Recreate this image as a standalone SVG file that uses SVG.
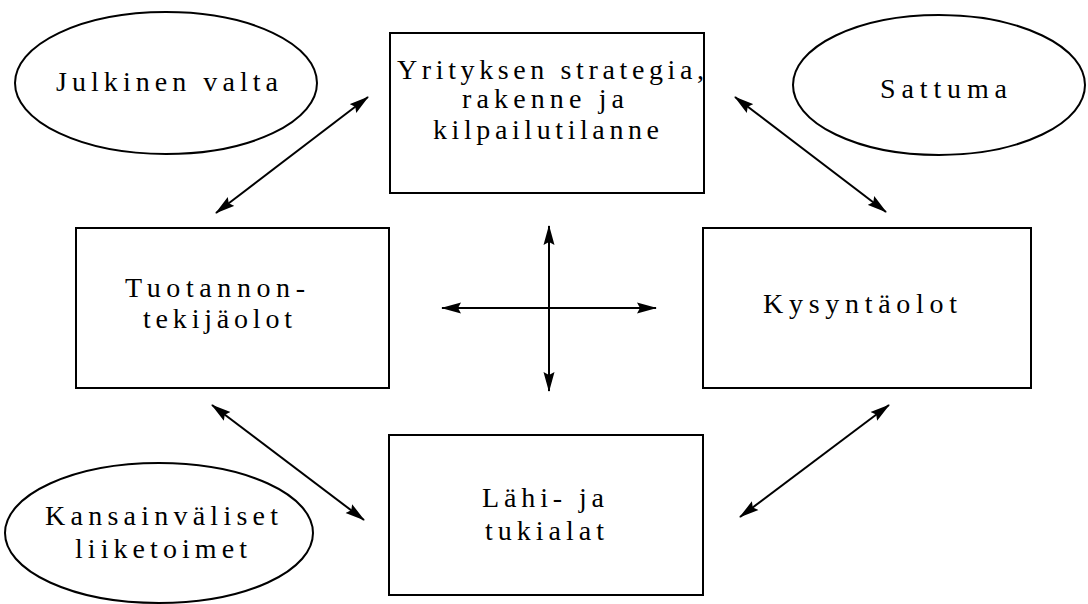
<svg xmlns="http://www.w3.org/2000/svg" width="1088" height="604" viewBox="0 0 1088 604">
<style>
.box{fill:#fff;stroke:#000;stroke-width:2}
.ell{fill:#fff;stroke:#000;stroke-width:2}
.t{font-family:"Liberation Serif","Times New Roman",serif;font-size:28px;fill:#000}
.c{stroke:#000;stroke-width:2;fill:none;marker-start:url(#ah);marker-end:url(#ah)}
</style>
<defs>
<marker id="ah" viewBox="0 0 20 12" refX="19" refY="6" markerWidth="20" markerHeight="12" markerUnits="userSpaceOnUse" orient="auto-start-reverse">
<path d="M0,0.5 L20,6 L0,11.5 L3,6 Z" fill="#000"/>
</marker>
</defs>
<rect width="1088" height="604" fill="#fff"/>
<g id="julkinen-valta">
<ellipse class="ell" cx="166" cy="83" rx="151" ry="71"/>
<text class="t" x="56" y="91" textLength="222" lengthAdjust="spacing">Julkinen valta</text>
</g>
<g id="sattuma">
<ellipse class="ell" cx="939" cy="85" rx="146" ry="70"/>
<text class="t" x="880" y="98" textLength="127" lengthAdjust="spacing">Sattuma</text>
</g>
<g id="kansainvaliset">
<ellipse class="ell" cx="159" cy="533" rx="154" ry="70"/>
<text class="t" x="45" y="525" textLength="233" lengthAdjust="spacing">Kansainväliset</text>
<text class="t" x="75" y="558" textLength="172" lengthAdjust="spacing">liiketoimet</text>
</g>
<g id="yrityksen-strategia">
<rect class="box" x="390" y="33" width="314" height="160"/>
<text class="t" x="397" y="79" textLength="307" lengthAdjust="spacing">Yrityksen strategia,</text>
<text class="t" x="462" y="108" textLength="162" lengthAdjust="spacing">rakenne ja</text>
<text class="t" x="433" y="139" textLength="226" lengthAdjust="spacing">kilpailutilanne</text>
</g>
<g id="tuotannontekijaolot">
<rect class="box" x="76" y="228" width="313" height="160"/>
<text class="t" x="125" y="297" textLength="180" lengthAdjust="spacing">Tuotannon-</text>
<text class="t" x="143" y="328" textLength="149" lengthAdjust="spacing">tekijäolot</text>
</g>
<g id="kysyntaolot">
<rect class="box" x="703" y="228" width="328" height="160"/>
<text class="t" x="763" y="313" textLength="194" lengthAdjust="spacing">Kysyntäolot</text>
</g>
<g id="lahi-ja-tukialat">
<rect class="box" x="389" y="435" width="314" height="160"/>
<text class="t" x="482" y="507" textLength="122" lengthAdjust="spacing">Lähi- ja</text>
<text class="t" x="485" y="540" textLength="119" lengthAdjust="spacing">tukialat</text>
</g>
<g id="connectors">
<line class="c" x1="216" y1="213" x2="368" y2="97"/>
<line class="c" x1="735" y1="97" x2="886" y2="212"/>
<line class="c" x1="212" y1="405" x2="364" y2="520"/>
<line class="c" x1="889" y1="405" x2="740" y2="517"/>
<line class="c" x1="549" y1="226" x2="549" y2="391"/>
<line class="c" x1="442" y1="308" x2="656" y2="308"/>
</g>
</svg>
